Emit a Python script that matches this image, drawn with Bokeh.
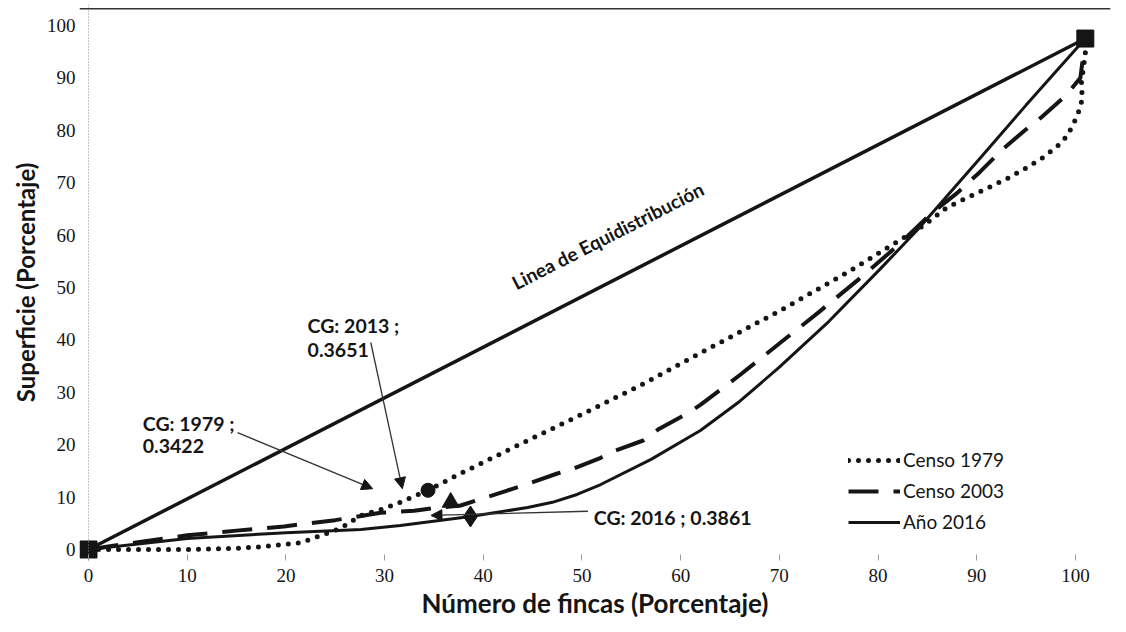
from bokeh.plotting import figure
from bokeh.models import (Range1d, Span, Label, Arrow, NormalHead, Legend,
                          LegendItem, FixedTicker)
from bokeh.embed import file_html
from bokeh.resources import INLINE

# ---------------- data ----------------
x_1979 = [0, 5, 10, 15, 18, 21.5, 23, 25.5, 27.6, 29.9, 31.6, 34.4, 37.7, 40.4,
          44.5, 50, 55.9, 62, 70, 77, 84.6, 87, 90, 93.1, 95.1, 96.7, 98.2,
          99.2, 100.2, 100.7, 100.6, 101, 101]
y_1979 = [0, 0, 0, 0.2, 0.6, 1.3, 2.3, 4.0, 6.5, 7.8, 9.0, 11.3, 14.5, 17.0,
          20.8, 25.8, 31.3, 37.5, 45.5, 53.0, 61.8, 65.3, 68.0, 70.8, 72.9,
          74.8, 77.0, 79.0, 82.8, 86.0, 89.0, 94.7, 97.5]

x_2003 = [0, 5, 10, 15, 19.8, 25, 29.6, 33, 35, 37.7, 39.4, 42.5, 44, 47.5,
          48.8, 51.9, 53.4, 56.2, 57.8, 60.7, 62, 66, 70, 74, 78, 82, 85.3, 88,
          90.3, 92.7, 95.2, 96.5, 99, 100.5, 101]
y_2003 = [0, 1.4, 2.7, 3.6, 4.4, 5.6, 7.0, 7.4, 7.9, 8.4, 9.4, 11.3, 12.2, 14.5,
          15.2, 17.5, 18.9, 20.8, 23.0, 26.0, 27.6, 33.3, 39.3, 45.3, 51.5,
          58.0, 64.0, 68.0, 72.0, 76.5, 80.5, 82.4, 86.6, 90.0, 97.5]

x_2016 = [0, 10, 20, 27.6, 31.6, 38.7, 44.5, 47, 49.5, 51.9, 57, 62, 66, 70,
          75, 80.2, 84, 90.4, 95, 101]
y_2016 = [0, 2.1, 3.2, 3.8, 4.6, 6.3, 8.0, 9.0, 10.5, 12.4, 17.2, 22.7, 28.3,
          34.8, 43.5, 53.5, 61.0, 74.8, 84.8, 97.5]

equi_x = [0, 101]
equi_y = [0, 97.5]

# Gini coefficient markers
cg_1979 = (36.7, 9.0)    # triangle
cg_2013 = (34.4, 11.3)   # circle
cg_2016 = (38.7, 6.3)    # diamond

ticks = [0, 10, 20, 30, 40, 50, 60, 70, 80, 90, 100]

series_labels = ["Censo 1979", "Censo 2003", "Año 2016"]
x_title = "Número de fincas (Porcentaje)"
y_title = "Superficie (Porcentaje)"
equi_label = "Linea de Equidistribución"

ann_1979 = ["CG: 1979 ;", "0.3422"]
ann_2013 = ["CG: 2013 ;", "0.3651"]
ann_2016 = "CG: 2016 ; 0.3861"

# arrows: (x_start, y_start, x_end, y_end)
arrow_1979 = (15.1, 22.3, 28.8, 11.6)
arrow_2013 = (28.6, 39.5, 31.8, 11.6)
arrow_2016 = (50.6, 7.3, 34.7, 6.5)

# ---------------- figure ----------------
INK = "#151515"

p = figure(width=1118, height=628,
           x_range=Range1d(-0.912, 103.55), y_range=Range1d(-2.1, 104.0),
           output_backend="svg", toolbar_location=None,
           min_border_left=79, min_border_right=8,
           min_border_top=4, min_border_bottom=68)
p.grid.visible = False
p.outline_line_color = None
p.background_fill_color = "white"
p.border_fill_color = "white"

# axes
p.xaxis.ticker = FixedTicker(ticks=ticks)
p.yaxis.ticker = FixedTicker(ticks=ticks)
p.xaxis.minor_tick_line_color = None
p.yaxis.minor_tick_line_color = None
p.xaxis.axis_line_color = None
p.yaxis.axis_line_color = None
p.xaxis.major_tick_in = 6
p.xaxis.major_tick_out = 0
p.xaxis.major_tick_line_color = "#9a9a9a"
p.yaxis.major_tick_in = 0
p.yaxis.major_tick_out = 0
p.xaxis.major_label_standoff = 8
p.yaxis.major_label_standoff = 4
for ax in (p.xaxis, p.yaxis):
    ax.major_label_text_font = "Liberation Serif"
    ax.major_label_text_font_size = "19px"
    ax.major_label_text_color = INK
    ax.axis_label_text_font = "Lato"
    ax.axis_label_text_font_style = "bold"
    ax.axis_label_text_color = INK
p.xaxis.axis_label = x_title
p.xaxis.axis_label_text_font_size = "26px"
p.xaxis.axis_label_standoff = 2
p.yaxis.axis_label = y_title
p.yaxis.axis_label_text_font_size = "24px"
p.yaxis.axis_label_standoff = 4

# faint vertical axis line at x = 0 and top border rule
p.add_layout(Span(location=0, dimension="height", line_color="#8a8a8a",
                  line_width=1, line_dash="1 2"))
p.add_layout(Span(location=103.2, dimension="width", line_color="#333333",
                  line_width=1.5))

# equidistribution line
p.line(equi_x, equi_y, line_color=INK, line_width=3.5)

# Lorenz curves
r1979 = p.line(x_1979, y_1979, line_color=INK, line_width=5,
               line_dash="0 10", line_cap="round")
r2003 = p.line(x_2003, y_2003, line_color=INK, line_width=4,
               line_dash="30 15")
r2016 = p.line(x_2016, y_2016, line_color=INK, line_width=3)

# end-point squares
p.scatter(equi_x, equi_y, marker="square", size=17, fill_color=INK,
          line_color=INK)

# Gini markers
p.scatter([cg_2013[0]], [cg_2013[1]], marker="circle", size=14,
          fill_color=INK, line_color=INK)
p.scatter([cg_1979[0]], [cg_1979[1]], marker="triangle", size=17,
          fill_color=INK, line_color=INK)
p.scatter([cg_2016[0]], [cg_2016[1]], marker="diamond", size=21,
          fill_color=INK, line_color=INK)

# arrows
for (xs, ys, xe, ye) in (arrow_1979, arrow_2013, arrow_2016):
    p.add_layout(Arrow(end=NormalHead(size=11, fill_color=INK, line_color=INK),
                       x_start=xs, y_start=ys, x_end=xe, y_end=ye,
                       line_color="#333333", line_width=1.3))

def lab(x, y, text, size="19.5px", **kw):
    p.add_layout(Label(x=x, y=y, text=text, text_font="Lato",
                       text_font_style="bold", text_font_size=size,
                       text_color=INK, text_baseline="middle", **kw))

lab(5.5, 24.0, ann_1979[0])
lab(5.5, 19.7, ann_1979[1])
lab(22.2, 42.7, ann_2013[0])
lab(22.2, 38.0, ann_2013[1])
lab(51.2, 6.1, ann_2016)
lab(52.6, 59.9, equi_label, size="19px", text_align="center",
    angle=27, angle_units="deg")

# legend
legend = Legend(items=[LegendItem(label=series_labels[0], renderers=[r1979]),
                       LegendItem(label=series_labels[1], renderers=[r2003]),
                       LegendItem(label=series_labels[2], renderers=[r2016])],
                location=(764, 22), glyph_width=52, glyph_height=22,
                label_height=22, spacing=8, padding=5, label_standoff=3,
                background_fill_alpha=0, border_line_alpha=0,
                label_text_font="Lato", label_text_font_size="19px",
                label_text_color=INK)
p.add_layout(legend)

open("out.html", "w").write(file_html(p, INLINE))
